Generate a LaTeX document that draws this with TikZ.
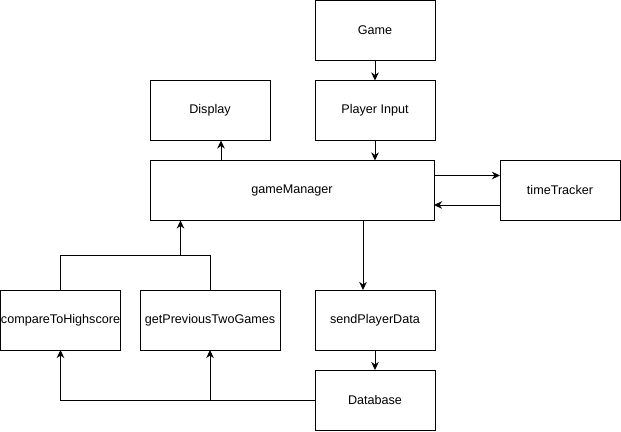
\documentclass[tikz,border=0pt]{standalone}
\usepackage{fontspec}
\setmainfont{Liberation Sans}
\usetikzlibrary{arrows.meta}
\begin{document}
\begin{tikzpicture}[x=1pt,y=-1pt,
  box/.style={draw,line width=1pt,minimum height=60pt,minimum width=120pt,inner sep=0pt,outer sep=0pt,font=\fontsize{12.6}{15}\selectfont},
  arr/.style={line width=1pt,-{Stealth[length=8pt,width=7.5pt,inset=2.5pt]}},
  ln/.style={line width=1pt}]
\useasboundingbox (0,0) rectangle (621,431);
\node[box] (game) at (375,30.5) {Game};
\node[box] (pin) at (375,110.5) {Player Input};
\node[box] (disp) at (210,110.5) {Display};
\node[box,minimum width=284pt] (gm) at (292,190.5) {gameManager};
\node[box] (tt) at (560,190) {timeTracker};
\node[box] (cmp) at (60.5,320) {compareToHighscore};
\node[box,minimum width=140pt] (gp) at (210,320) {getPreviousTwoGames};
\node[box] (spd) at (375,320) {sendPlayerData};
\node[box] (db) at (375,400) {Database};
\draw[arr] (game.south) -- (pin.north);
\draw[arr] (pin.south) -- (pin.south |- gm.north);
\draw[arr] ([xshift=11pt]disp.south |- gm.north) -- ([xshift=11pt]disp.south);
\draw[arr] ([yshift=15pt]gm.east) -- ([yshift=15pt]gm.east -| tt.west);
\draw[arr] ([yshift=-15pt]tt.west) -- ([yshift=-15pt]tt.west -| gm.east);
\draw[arr] ([xshift=-12pt]spd.north |- gm.south) -- ([xshift=-12pt]spd.north);
\draw[arr] (spd.south) -- (db.north);
\coordinate (m) at (180.5,255);
\draw[ln] (cmp.north) |- (m);
\draw[ln] (gp.north) |- (m);
\draw[arr] (m) -- (m |- gm.south);
\coordinate (b) at (db.west -| gp.south);
\draw[arr] (db.west) -| (cmp.south);
\draw[arr] (b) -- (gp.south);
\end{tikzpicture}
\end{document}
